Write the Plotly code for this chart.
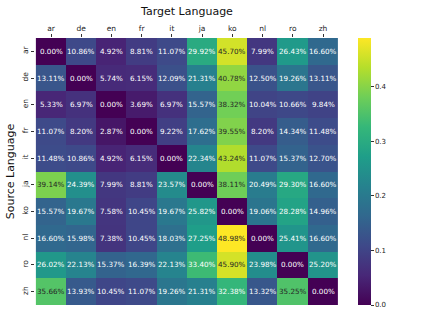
import plotly.graph_objects as go

langs = ["ar", "de", "en", "fr", "it", "ja", "ko", "nl", "ro", "zh"]

row_ar = [0.00, 10.86, 4.92, 8.81, 11.07, 29.92, 45.70, 7.99, 26.43, 16.60]
row_de = [13.11, 0.00, 5.74, 6.15, 12.09, 21.31, 40.78, 12.50, 19.26, 13.11]
row_en = [5.33, 6.97, 0.00, 3.69, 6.97, 15.57, 38.32, 10.04, 10.66, 9.84]
row_fr = [11.07, 8.20, 2.87, 0.00, 9.22, 17.62, 39.55, 8.20, 14.34, 11.48]
row_it = [11.48, 10.86, 4.92, 6.15, 0.00, 22.34, 43.24, 11.07, 15.37, 12.70]
row_ja = [39.14, 24.39, 7.99, 8.81, 23.57, 0.00, 38.11, 20.49, 29.30, 16.60]
row_ko = [15.57, 19.67, 7.58, 10.45, 19.67, 25.82, 0.00, 19.06, 28.28, 14.96]
row_nl = [16.60, 15.98, 7.38, 10.45, 18.03, 27.25, 48.98, 0.00, 25.41, 16.60]
row_ro = [26.02, 22.13, 15.37, 16.39, 22.13, 33.40, 45.90, 23.98, 0.00, 25.20]
row_zh = [35.66, 13.93, 10.45, 11.07, 19.26, 21.31, 32.38, 13.32, 35.25, 0.00]

rows = [row_ar, row_de, row_en, row_fr, row_it, row_ja, row_ko, row_nl, row_ro, row_zh]
z = [[v / 100 for v in r] for r in rows]

fig = go.Figure(go.Heatmap(
    z=z, x=langs, y=langs, colorscale="Viridis", zmin=0, zmax=max(max(r) for r in z),
    xgap=0, ygap=0,
    colorbar=dict(x=1.062, xanchor="left", y=0.5, yanchor="middle", len=1.0, lenmode="fraction",
                  thickness=13, outlinewidth=0, xpad=0, ypad=0, ticks="outside", ticklen=3, tickwidth=0.8,
                  tickcolor="#333", tickvals=[0, 0.1, 0.2, 0.3, 0.4], tickformat=".1f",
                  tickfont=dict(family="DejaVu Sans", size=7, color="#222")),
))

annotations = []
for i, src in enumerate(langs):
    for j, tgt in enumerate(langs):
        v = rows[i][j]
        annotations.append(dict(x=tgt, y=src, xref="x", yref="y", text=f"{v:.2f}%", showarrow=False,
                                font=dict(family="DejaVu Sans", size=7.2,
                                          color="#262626" if v > 34 else "white")))

fig.update_layout(
    width=424, height=318, margin=dict(l=35, r=85, t=38, b=13, autoexpand=False),
    paper_bgcolor="white", plot_bgcolor="white",
    annotations=annotations,
    xaxis=dict(side="top", ticks="outside", ticklen=3, tickwidth=0.8, tickcolor="#333", showgrid=False,
               zeroline=False, automargin=False, tickfont=dict(family="DejaVu Sans", size=7.5, color="#222"),
               title=dict(text="Target Language", font=dict(family="DejaVu Sans", size=11, color="#111"), standoff=6)),
    yaxis=dict(autorange="reversed", ticks="outside", ticklen=3, tickwidth=0.8, tickcolor="#333", showgrid=False,
               zeroline=False, automargin=False, tickangle=-90, tickfont=dict(family="DejaVu Sans", size=7.5, color="#222"),
               title=dict(text="Source Language", font=dict(family="DejaVu Sans", size=11, color="#111"), standoff=4)),
)

fig.write_html("out.html", config={"displayModeBar": False},
               post_script="document.body.style.margin='0';document.body.style.overflow='hidden';")
